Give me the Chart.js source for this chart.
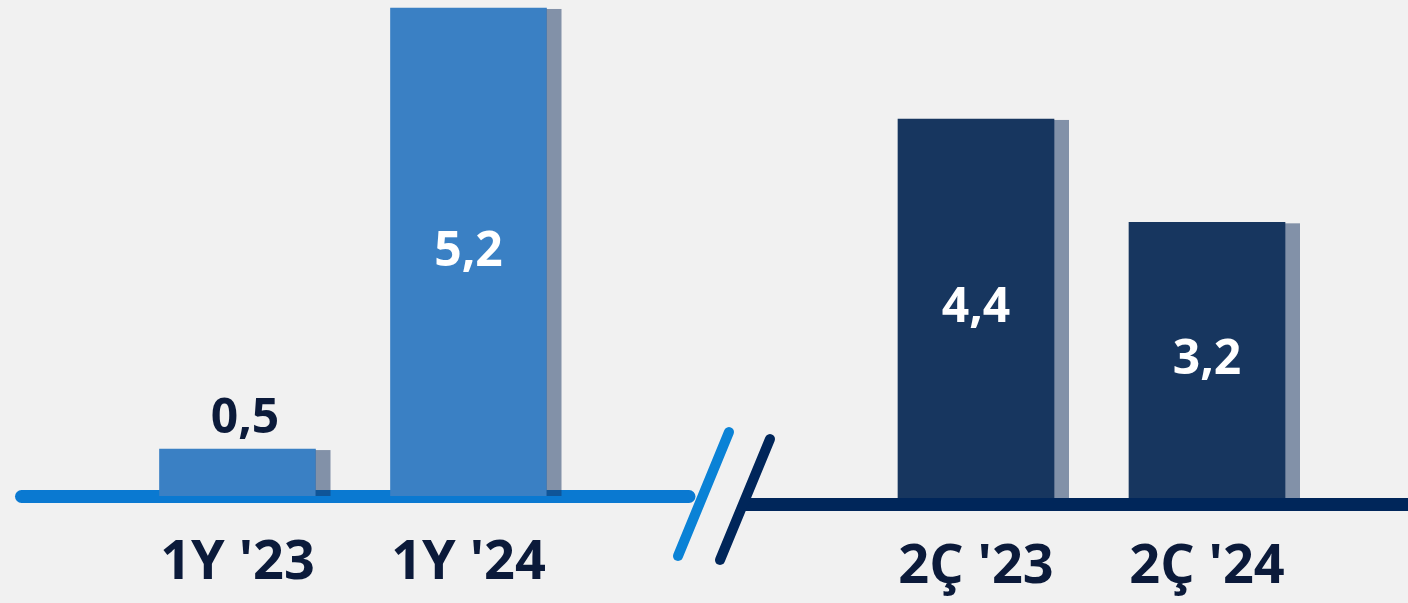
<!DOCTYPE html>
<html><head><meta charset="utf-8">
<script src="https://cdn.jsdelivr.net/npm/chart.js@4.4.1/dist/chart.umd.min.js"></script>
<style>
html,body{margin:0;padding:0;background:#f1f1f1;width:1408px;height:603px;overflow:hidden;}
#wrap{position:relative;width:1408px;height:603px;}
canvas{position:absolute;top:0;}
#c1{left:0;}
#c2{left:660px;}
</style></head><body>
<div id="wrap">
<canvas id="c1" width="704" height="603"></canvas>
<canvas id="c2" width="748" height="603"></canvas>
</div>
<script>
// ---- data ----
const halfYearLabels = ["1Y '23", "1Y '24"];
const halfYearValues = [0.5, 5.2];
const quarterLabels = ["2Ç '23", "2Ç '24"];
const quarterValues = [4.4, 3.2];

const FONT = "'Open Sans', 'Noto Sans', sans-serif";
const fmt = v => v.toFixed(1).replace('.', ',');

function drawBaseline(chart, o) {
  const ctx = chart.ctx;
  const y = chart.scales.y.getPixelForValue(0) + o.lineOffset;
  ctx.save();
  ctx.strokeStyle = o.lineColor;
  ctx.lineWidth = o.lineWidth;
  ctx.lineCap = o.lineCap;
  ctx.beginPath();
  ctx.moveTo(o.lineFrom, y);
  ctx.lineTo(o.lineTo === null ? chart.width : o.lineTo, y);
  ctx.stroke();
  ctx.restore();
}

const decor = {
  id: 'decor',
  beforeDatasetsDraw(chart, args, o) {
    if (o.lineBelow) drawBaseline(chart, o);
  },
  afterDatasetsDraw(chart, args, o) {
    const ctx = chart.ctx;
    const meta = chart.getDatasetMeta(0);
    const ds = chart.data.datasets[0];
    const y0 = chart.scales.y.getPixelForValue(0);
    // offset shadows
    meta.data.forEach(bar => {
      const p = bar.getProps(['x', 'y', 'base', 'width'], true);
      ctx.save();
      ctx.fillStyle = o.shadowColor;
      ctx.fillRect(p.x + p.width / 2, p.y + 1, o.shadowWidth, p.base - p.y - 1);
      ctx.restore();
    });
    if (!o.lineBelow) drawBaseline(chart, o);
    // axis break slashes
    (o.slashes || []).forEach(s => {
      ctx.save();
      ctx.strokeStyle = s.color;
      ctx.lineWidth = 10;
      ctx.lineCap = 'round';
      ctx.beginPath();
      ctx.moveTo(s.x1, y0 + s.dy1);
      ctx.lineTo(s.x2, y0 + s.dy2);
      ctx.stroke();
      ctx.restore();
    });
    // value labels
    meta.data.forEach((bar, i) => {
      const p = bar.getProps(['x', 'y', 'base', 'width'], true);
      const v = ds.data[i];
      const h = p.base - p.y;
      ctx.save();
      ctx.font = '700 48px ' + FONT;
      ctx.textAlign = 'center';
      ctx.textBaseline = 'middle';
      if (h < 80) {
        ctx.fillStyle = '#0b1a3a';
        ctx.fillText(fmt(v), p.x + o.shadowWidth / 2, p.y - 30);
      } else {
        ctx.fillStyle = '#ffffff';
        ctx.fillText(fmt(v), p.x, (p.y + p.base) / 2);
      }
      ctx.restore();
    });
  }
};

function makeChart(id, labels, values, color, yMax, axisHeight, tickPad, padL, padR, deco) {
  return new Chart(document.getElementById(id), {
    type: 'bar',
    data: {
      labels: labels,
      datasets: [{
        data: values,
        backgroundColor: color,
        borderWidth: 0,
        barThickness: 156
      }]
    },
    options: {
      responsive: false,
      animation: false,
      devicePixelRatio: 1,
      layout: { padding: { left: padL, right: padR, top: 0, bottom: 0 } },
      plugins: { legend: { display: false }, tooltip: { enabled: false }, decor: deco },
      scales: {
        x: {
          grid: { display: false, drawTicks: false },
          border: { display: false },
          ticks: {
            color: '#0b1a3a',
            font: { family: FONT, size: 54, weight: '700', lineHeight: 1 },
            padding: tickPad,
            maxRotation: 0,
            autoSkip: false
          },
          afterFit: s => { s.height = axisHeight; }
        },
        y: { display: false, min: 0, max: yMax }
      }
    },
    plugins: [decor]
  });
}

makeChart('c1', halfYearLabels, halfYearValues, '#3a80c4', 5.285, 107, 41, 122, 120, {
  shadowColor: 'rgba(20,50,95,0.5)', shadowWidth: 15,
  lineBelow: true, lineColor: '#0a79d1', lineWidth: 13, lineCap: 'round',
  lineOffset: 0.5, lineFrom: 21.5, lineTo: 689
});

makeChart('c2', quarterLabels, quarterValues, '#17365f', 5.781, 105, 43, 200.5, 85.5, {
  shadowColor: 'rgba(20,50,95,0.5)', shadowWidth: 15,
  lineBelow: false, lineColor: '#00265a', lineWidth: 13, lineCap: 'butt',
  lineOffset: 6.5, lineFrom: 83, lineTo: null,
  slashes: [
    { color: '#0a82d6', x1: 69, dy1: -66, x2: 18, dy2: 58 },
    { color: '#00265a', x1: 110, dy1: -59, x2: 60, dy2: 62 }
  ]
});
</script>
</body></html>
